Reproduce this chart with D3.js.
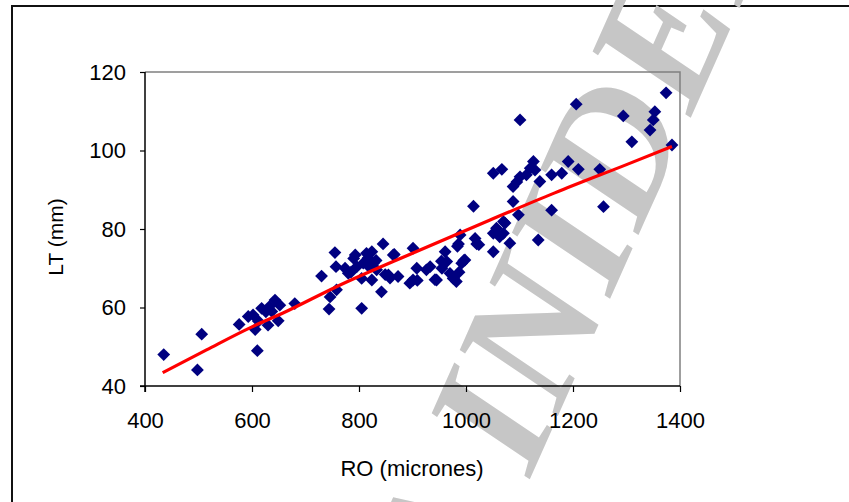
<!DOCTYPE html>
<html><head><meta charset="utf-8">
<script src="https://cdn.jsdelivr.net/npm/d3@7"></script>
<style>html,body{margin:0;padding:0;background:#fff;overflow:hidden}</style>
</head><body>
<svg id="c" width="849" height="502"></svg>
<script>
// ---- data ----
const roValues = [435,498,506,610,576,593,602,606,618,630,643,652,649,626,680,612,637,633,
 730,744,746,755,757,758,774,780,793,796,805,805,808,814,824,827,824,833,842,845,849,855,864,873,
 895,901,901,908,926,933,945,955,961,964,970,976,982,986,989,992,998,817,785,832,866,858,909,942,954,977,984,987,996,790,818,
 1014,1017,1020,1024,1051,1057,1051,1070,1082,1073,1063,1070,1051,1067,1088,1101,1113,1129,1126,1138,1160,1179,1191,1210,1250,
 1088,1098,1160,1257,1135,1101,1206,1294,1310,1344,1350,1353,1374,1385,1120,1095];
const ltValues = [48,44.1,53.2,49,55.7,57.7,58.1,54.4,59.8,55.5,61.9,60.6,56.6,58.9,61,56.5,59,60.3,
 68,59.6,62.7,74,70.4,64.5,70,68.7,73.4,70.4,67.4,59.8,71.3,73.8,74.2,71.3,67,69.6,64,76.2,68.4,68.3,73.4,67.9,
 66.2,75.1,67,70,69.6,70.4,67,70,74.2,71.7,68.7,67.4,66.6,76.2,78.5,71.3,72.1,72.6,69,72,73.5,67.5,66.9,67.1,71.8,67.5,75.6,69,72,72.5,70.5,
 85.8,77.6,76.2,76,78.9,80.2,74.2,78.9,76.4,81.5,78,81.9,94.2,95.2,90.8,93.3,93.8,95,97.2,92.1,93.8,94.2,97.2,95.2,95.2,
 87,83.6,84.8,85.7,77.2,107.8,111.8,108.8,102.2,105.2,107.8,109.9,114.7,101.4,95.5,92];
const trendRO = [433,515,599,658,758,901,1045,1166,1300,1385];
const trendLT = [43.4,49.2,55,58.6,65.3,73.9,82.3,89.2,96.4,101];
const xTicks = [400,600,800,1000,1200,1400];
const yTicks = [40,60,80,100,120];
const xTitle = "RO (micrones)";
const yTitle = "LT (mm)";
const watermark = "A INIDEP";

// ---- drawing ----
const svg = d3.select("#c");
const font = "'Liberation Sans', Arial, sans-serif";
const L=145, R=680, T=72, B=386;
const x = d3.scaleLinear().domain([400,1400]).range([L,R]);
const y = d3.scaleLinear().domain([40,120]).range([B,T]);

// frame
svg.append("rect").attr("x",12).attr("y",6).attr("width",900).attr("height",600)
  .attr("fill","#fff").attr("stroke","#111").attr("stroke-width",2);

// watermark
svg.append("text").text(watermark)
  .attr("transform","translate(468,618) rotate(-66)")
  .attr("font-family","'Liberation Serif', 'Times New Roman', serif")
  .attr("font-weight","bold").attr("font-style","italic")
  .attr("font-size",178).attr("fill","#c6c6c6");

// plot border (top/right gray)
svg.append("path").attr("d",`M${L},${T}H${R}V${B}`).attr("fill","none")
  .attr("stroke","#808080").attr("stroke-width",1.5);

// axes
const xa = svg.append("g").attr("transform",`translate(0,${B})`)
  .call(d3.axisBottom(x).tickValues(xTicks).tickSize(6).tickPadding(20).tickFormat(d3.format("d")));
const ya = svg.append("g").attr("transform",`translate(${L},0)`)
  .call(d3.axisLeft(y).tickValues(yTicks).tickSize(5).tickPadding(14).tickFormat(d3.format("d")));
[xa,ya].forEach(g=>{
  g.select(".domain").attr("stroke","#000").attr("stroke-width",1.5);
  g.selectAll(".tick line").attr("stroke","#000").attr("stroke-width",1.2);
  g.selectAll("text").attr("font-family",font).attr("font-size",22).attr("fill","#000");
});
ya.select(".domain").attr("d",`M0,${B+6}V${T}`);
xa.select(".domain").attr("d",`M${L-5},0H${R}`);

// points
const sym = d3.symbol().type(d3.symbolSquare).size(82);
svg.append("g").selectAll("path").data(roValues.map((v,i)=>[v,ltValues[i]])).join("path")
  .attr("d",sym).attr("fill","#000080")
  .attr("transform",d=>`translate(${x(d[0])},${y(d[1])}) rotate(45)`);

// trend line
svg.append("path").datum(trendRO.map((v,i)=>[v,trendLT[i]]))
  .attr("d",d3.line().x(d=>x(d[0])).y(d=>y(d[1])).curve(d3.curveMonotoneX))
  .attr("fill","none").attr("stroke","#ff0000").attr("stroke-width",3.2);

// titles
svg.append("text").text(xTitle).attr("x",412).attr("y",476).attr("text-anchor","middle")
  .attr("font-family",font).attr("font-size",22).attr("fill","#000");
svg.append("text").text(yTitle).attr("transform","translate(63,237) rotate(-90)").attr("text-anchor","middle")
  .attr("font-family",font).attr("font-size",21).attr("fill","#000");
</script>
</body></html>
